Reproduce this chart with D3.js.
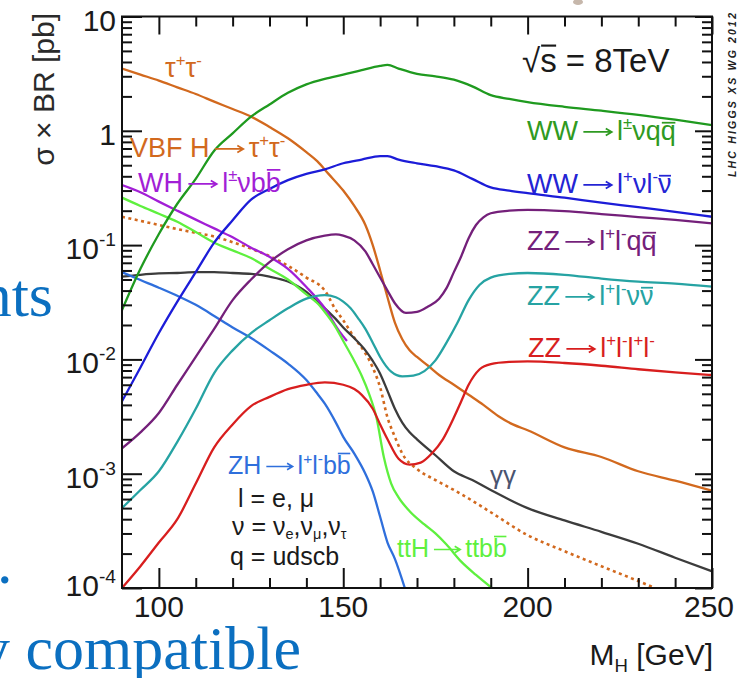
<!DOCTYPE html>
<html>
<head>
<meta charset="utf-8">
<script src="https://cdn.jsdelivr.net/npm/d3@7"></script>
<style>
  html, body { margin: 0; padding: 0; background: #fff; overflow: hidden; }
  text { font-family: "Liberation Sans", Arial, Helvetica, sans-serif; }
</style>
</head>
<body>
<svg id="chart" width="741" height="678"></svg>
<script>
// ---- cross section x branching ratio, sqrt(s) = 8 TeV (pb) ----
const massTauTau = [90,95,100,105,110,115,120,125,130,135,140,143,146,150,153,156,158,160,162,164,166,168,170,173,176,180,184,188,192,196,200,210,220,230,240,250];
const tauTau     = [3.5,3.1,2.75,2.4,2.1,1.8,1.55,1.33,1.08,0.86,0.65,0.54,0.42,0.3,0.22,0.15,0.1,0.06,0.035,0.021,0.015,0.012,0.0105,0.0088,0.0073,0.006,0.0049,0.004,0.0032,0.0027,0.0024,0.0017,0.0014,0.00105,0.00087,0.00071];

const massVbfTauTau = [90,95,100,105,110,115,120,125,130,135,140,145,148,150,153,156,158,160,162,164,166,170,175,180,185,190,200,210,220,230,234.5];
const vbfTauTau     = [0.177,0.163,0.15,0.138,0.128,0.119,0.106,0.093,0.08,0.066,0.052,0.04,0.027,0.022,0.0155,0.0113,0.0085,0.0057,0.0031,0.0021,0.0015,0.0011,0.00088,0.00072,0.00058,0.00046,0.00029,0.00021,0.000155,0.000115,0.0001];

const massWhLvbb = [90,95,100,105,110,115,120,125,130,135,140,145,149,151];
const whLvbb     = [0.335,0.29,0.24,0.2,0.167,0.14,0.117,0.095,0.079,0.062,0.043,0.028,0.0175,0.0145];

const massTthBb = [90,95,100,105,110,115,120,125,130,135,140,143,145,148,150,153,155,157,159,161,163,165,168,172,175,178,182,186,190.3];
const tthBb     = [0.26,0.22,0.188,0.16,0.13,0.105,0.09,0.077,0.062,0.05,0.037,0.031,0.026,0.019,0.0145,0.0097,0.0072,0.005,0.0031,0.0014,0.00082,0.00062,0.00047,0.00036,0.0003,0.00024,0.00017,0.00013,0.0001];

const massGammaGamma = [90,95,100,105,110,115,120,125,130,135,140,143,145,148,150,153,156,158,160,162,164,166,168,170,175,180,185,190,200,210,220,230,240,250];
const gammaGamma     = [0.053,0.055,0.0565,0.057,0.058,0.058,0.057,0.056,0.053,0.048,0.039,0.032,0.028,0.0225,0.019,0.0153,0.012,0.0097,0.0075,0.0053,0.0037,0.0028,0.0023,0.002,0.00145,0.00105,0.00088,0.00072,0.0005,0.00039,0.00031,0.000244,0.000184,0.00014];

const massZhLLbb = [90,95,100,105,110,115,120,125,130,135,140,143,145,148,150,153,156,158,160,162,164,166.7];
const zhLLbb     = [0.058,0.0495,0.0424,0.036,0.03,0.024,0.019,0.0154,0.012,0.0092,0.0066,0.005,0.0041,0.0028,0.0021,0.0015,0.001,0.0007,0.00042,0.00025,0.00018,0.0001];

const massWwLvqq = [90,95,100,105,110,115,120,125,130,135,140,145,150,155,160,162,165,170,175,180,185,190,195,200,210,220,230,240,250];
const wwLvqq     = [0.027,0.062,0.125,0.23,0.38,0.67,0.95,1.33,1.7,2.15,2.55,2.85,3.1,3.4,3.7,3.77,3.5,3.15,3.0,2.8,2.45,2.05,1.9,1.78,1.62,1.5,1.38,1.25,1.12];

const massWwLvLv = [90,95,100,105,110,115,120,125,130,135,140,145,150,155,160,162,165,170,175,180,185,190,195,200,210,220,230,240,250];
const wwLvLv     = [0.0043,0.0085,0.017,0.032,0.058,0.105,0.165,0.25,0.31,0.37,0.42,0.46,0.52,0.56,0.6,0.6,0.56,0.52,0.49,0.45,0.38,0.32,0.3,0.285,0.26,0.235,0.215,0.195,0.177];

const massZzLLqq = [90,95,100,105,110,115,120,125,130,135,140,145,148,150,153,156,158,160,162,164,167,170,173,176,178,180,182,184,186,188,190,195,200,210,220,230,240,250];
const zzLLqq     = [0.00167,0.0023,0.0034,0.006,0.0105,0.0185,0.033,0.05,0.071,0.092,0.11,0.121,0.124,0.121,0.11,0.088,0.068,0.052,0.04,0.031,0.0255,0.026,0.029,0.034,0.042,0.058,0.08,0.115,0.15,0.175,0.19,0.2,0.203,0.198,0.187,0.176,0.166,0.155];

const massZzLLvv = [90,95,100,105,110,115,120,125,130,135,140,145,148,150,152,154,156,158,160,163,166,169,172,175,178,181,184,187,190,195,200,210,220,230,240,250];
const zzLLvv     = [0.0005,0.00072,0.00105,0.0019,0.0037,0.0076,0.012,0.017,0.022,0.028,0.034,0.0365,0.035,0.032,0.028,0.023,0.0185,0.014,0.0105,0.0078,0.0071,0.0072,0.0079,0.0098,0.014,0.021,0.033,0.045,0.052,0.056,0.057,0.055,0.051,0.048,0.046,0.0433];

const massZz4l = [90,95,100,105,110,115,120,125,130,135,140,145,150,153,155,158,160,162,165,168,171,174,177,180,182,184,187,190,195,200,210,220,230,240,250];
const zz4l     = [0.0001,0.000155,0.00025,0.0004,0.00082,0.0017,0.0027,0.0039,0.0047,0.0055,0.006,0.0063,0.006,0.0055,0.0049,0.0037,0.0027,0.002,0.00135,0.0012,0.00125,0.0015,0.002,0.0031,0.0043,0.006,0.0082,0.0091,0.0095,0.0096,0.0093,0.0088,0.0082,0.0077,0.0073];

// ---- axis ticks ----
const xMajorTicks = [100, 150, 200, 250];
const xMinorTicks = [110,120,130,140,160,170,180,190,210,220,230,240];
const yMajorTicks = [1e-4, 1e-3, 1e-2, 1e-1, 1, 10];
const xTickLabels = ["100", "150", "200", "250"];

// ---- chart ----
const svg = d3.select("#chart");
const W = 741, H = 678;
const plot = { left: 122, right: 712, top: 16.5, bottom: 588 };

const x = d3.scaleLinear().domain([90, 250]).range([plot.left, plot.right]);
const y = d3.scaleLog().domain([1e-4, 10]).range([plot.bottom, plot.top]);

svg.append("rect").attr("width", W).attr("height", H).attr("fill", "#fff");

// text helpers: plain, superscript, subscript, overlined runs and a drawn arrow
const T = t => ({ t });
const SUP = t => ({ t, sup: true });
const SUB = t => ({ t, sub: true });
const BAR = (t, h) => ({ t, bar: h || 0.64 });
const ARR = { arrow: true };

function rich(g, px, py, fs, color, segs, opt = {}) {
  const supScale = opt.supScale || 0.62, supRaise = opt.supRaise || 0.4;
  const subScale = opt.subScale || 0.62, subDrop = opt.subDrop || 0.22;
  const arrowW = 1.45;
  const txt = g.append("text").attr("x", px).attr("y", py)
    .attr("font-size", fs).attr("fill", color)
    .attr("text-anchor", opt.anchor || "start");
  if (opt.family) txt.style("font-family", opt.family);
  let cur = 0, idx = 0, pendingDx = 0;
  const bars = [], arrows = [];
  segs.forEach(s => {
    if (s.arrow) { arrows.push(idx - 1); pendingDx += arrowW * fs; return; }
    const off = s.sup ? -supRaise * fs : s.sub ? subDrop * fs : 0;
    const sp = txt.append("tspan").attr("dy", off - cur).text(s.t);
    if (pendingDx) { sp.attr("dx", pendingDx); pendingDx = 0; }
    if (s.sup) sp.attr("font-size", fs * supScale);
    if (s.sub) sp.attr("font-size", fs * subScale);
    if (s.bar) bars.push({ i: idx, n: s.t.length, off, h: s.bar });
    cur = off; idx += s.t.length;
  });
  const node = txt.node();
  const sw = Math.max(1.5, fs * 0.065);
  bars.forEach(b => {
    const x0 = node.getStartPositionOfChar(b.i).x;
    const x1 = node.getEndPositionOfChar(b.i + b.n - 1).x;
    const yy = py + b.off - b.h * fs;
    g.append("line").attr("x1", x0 + 1).attr("x2", x1 - 0.5)
      .attr("y1", yy).attr("y2", yy)
      .attr("stroke", color).attr("stroke-width", sw);
  });
  arrows.forEach(i => {
    const ex = node.getEndPositionOfChar(i).x;
    const a0 = ex + 0.2 * fs, a1 = ex + (arrowW - 0.2) * fs;
    const ay = py - 0.3 * fs, hw = 0.22 * fs, hh = 0.13 * fs;
    g.append("path")
      .attr("d", `M${a0},${ay}H${a1}M${a1 - hw},${ay - hh}L${a1},${ay}L${a1 - hw},${ay + hh}`)
      .attr("fill", "none").attr("stroke", color).attr("stroke-width", sw)
      .attr("stroke-linejoin", "miter");
  });
  return txt;
}

// ---- slide text around the figure ----
const slideBlue = "#0b6fc0";
const serif = '"Liberation Serif", "Times New Roman", serif';
svg.append("text").attr("x", 53).attr("y", 316).attr("text-anchor", "end")
  .attr("font-size", 62).attr("fill", slideBlue).style("font-family", serif).text("nts");
svg.append("text").attr("x", -3).attr("y", 583)
  .attr("font-size", 62).attr("fill", slideBlue).style("font-family", serif).text(".");
svg.append("text").attr("x", 301).attr("y", 669).attr("text-anchor", "end")
  .attr("font-size", 62).attr("fill", slideBlue).style("font-family", serif).text("y compatible");

// small fragment at the top edge
svg.append("ellipse").attr("cx", 578).attr("cy", 2).attr("rx", 5).attr("ry", 3)
  .attr("fill", "#b8a596").attr("opacity", 0.8);

// ---- curves ----
const clip = svg.append("defs").append("clipPath").attr("id", "plotClip");
clip.append("rect").attr("x", plot.left).attr("y", plot.top)
  .attr("width", plot.right - plot.left).attr("height", plot.bottom - plot.top);

const line = d3.line()
  .x(d => x(d[0]))
  .y(d => y(d[1]))
  .curve(d3.curveMonotoneX);

const curves = [
  { m: massTauTau,     v: tauTau,     color: "#d2691e" },
  { m: massVbfTauTau,  v: vbfTauTau,  color: "#d2691e", dash: "3,3.5" },
  { m: massGammaGamma, v: gammaGamma, color: "#3c3c3c" },
  { m: massWhLvbb,     v: whLvbb,     color: "#a21fd6" },
  { m: massTthBb,      v: tthBb,      color: "#5ef03e" },
  { m: massZhLLbb,     v: zhLLbb,     color: "#2f6fdc" },
  { m: massWwLvqq,     v: wwLvqq,     color: "#1f9a1f" },
  { m: massWwLvLv,     v: wwLvLv,     color: "#1c1cd8" },
  { m: massZzLLqq,     v: zzLLqq,     color: "#74207a" },
  { m: massZzLLvv,     v: zzLLvv,     color: "#26a3a3" },
  { m: massZz4l,       v: zz4l,       color: "#d81e1e" }
];

const gCurves = svg.append("g").attr("clip-path", "url(#plotClip)");
curves.forEach(c => {
  gCurves.append("path")
    .datum(c.m.map((m, i) => [m, c.v[i]]))
    .attr("d", line)
    .attr("fill", "none")
    .attr("stroke", c.color)
    .attr("stroke-width", c.dash ? 2.6 : 2.3)
    .attr("stroke-dasharray", c.dash || null)
    .attr("stroke-linejoin", "round");
});

// ---- frame and ticks ----
const yMinorTicks = [];
yMajorTicks.slice(0, -1).forEach(v => { for (let k = 2; k <= 9; k++) yMinorTicks.push(v * k); });

function styleAxis(g) {
  g.select(".domain").remove();
  g.selectAll(".tick line").attr("stroke", "#111").attr("stroke-width", 2);
  g.selectAll(".tick text").remove();
}
const axes = svg.append("g");
axes.append("g").attr("transform", `translate(0,${plot.bottom})`)
  .call(d3.axisBottom(x).tickValues(xMajorTicks).tickSize(-20).tickSizeOuter(0)).call(styleAxis);
axes.append("g").attr("transform", `translate(0,${plot.bottom})`)
  .call(d3.axisBottom(x).tickValues(xMinorTicks).tickSize(-10).tickSizeOuter(0)).call(styleAxis);
axes.append("g").attr("transform", `translate(0,${plot.top})`)
  .call(d3.axisTop(x).tickValues(xMajorTicks).tickSize(-18).tickSizeOuter(0)).call(styleAxis);
axes.append("g").attr("transform", `translate(0,${plot.top})`)
  .call(d3.axisTop(x).tickValues(xMinorTicks).tickSize(-10).tickSizeOuter(0)).call(styleAxis);
axes.append("g").attr("transform", `translate(${plot.left},0)`)
  .call(d3.axisLeft(y).tickValues(yMajorTicks).tickSize(-20).tickSizeOuter(0)).call(styleAxis);
axes.append("g").attr("transform", `translate(${plot.left},0)`)
  .call(d3.axisLeft(y).tickValues(yMinorTicks).tickSize(-10).tickSizeOuter(0)).call(styleAxis);
axes.append("g").attr("transform", `translate(${plot.right},0)`)
  .call(d3.axisRight(y).tickValues(yMajorTicks).tickSize(-17).tickSizeOuter(0)).call(styleAxis);
axes.append("g").attr("transform", `translate(${plot.right},0)`)
  .call(d3.axisRight(y).tickValues(yMinorTicks).tickSize(-10).tickSizeOuter(0)).call(styleAxis);

svg.append("rect")
  .attr("x", plot.left).attr("y", plot.top)
  .attr("width", plot.right - plot.left).attr("height", plot.bottom - plot.top)
  .attr("fill", "none").attr("stroke", "#111").attr("stroke-width", 2);

// ---- tick labels ----
const labels = svg.append("g");
xMajorTicks.forEach((v, i) => {
  labels.append("text").attr("x", x(v) - (v === 250 ? 3 : 0)).attr("y", 617).attr("text-anchor", "middle")
    .attr("font-size", 30).attr("fill", "#1a1a1a").text(xTickLabels[i]);
});
yMajorTicks.forEach(v => {
  const e = Math.round(Math.log10(v));
  const py = Math.min(y(v) + 14, 596);
  const segs = e === 1 ? [T("10")] : e === 0 ? [T("1")] : [T("10"), SUP(String(e))];
  rich(labels, 116, py, 30, "#1a1a1a", segs, { anchor: "end", supScale: 0.64, supRaise: 0.44 });
});

// ---- axis titles ----
const yTitle = svg.append("g").attr("transform", "translate(54,13) rotate(-90)");
rich(yTitle, 0, 0, 30, "#2a2a2a", [T("σ × BR [pb]")], { anchor: "end" });
rich(svg, 713, 665, 30, "#1a1a1a", [T("M"), SUB("H"), T(" [GeV]")], { anchor: "end" });

// energy
rich(svg, 522, 72, 33, "#1a1a1a", [T("√"), BAR("s", 0.8), T(" = 8TeV")]);

// group watermark
svg.append("text")
  .attr("transform", "translate(736,177) rotate(-90)")
  .attr("font-size", 10.5).attr("font-weight", "bold").attr("font-style", "italic")
  .attr("fill", "#222").attr("textLength", 164).attr("lengthAdjust", "spacing")
  .text("LHC HIGGS XS WG 2012");

// ---- channel labels ----
const ann = svg.append("g");
rich(ann, 165, 77, 27, "#d2691e", [T("τ"), SUP("+"), T("τ"), SUP("-")]);
rich(ann, 130, 157, 27, "#d2691e", [T("VBF H"), ARR, T("τ"), SUP("+"), T("τ"), SUP("-")]);
rich(ann, 138, 192, 27, "#a21fd6", [T("WH"), ARR, T("l"), SUP("±"), T("νb"), BAR("b", 0.82)]);
rich(ann, 527, 140, 27, "#2f9a22", [T("WW"), ARR, T("l"), SUP("±"), T("νq"), BAR("q")]);
rich(ann, 527, 193, 27, "#2424d4", [T("WW"), ARR, T("l"), SUP("+"), T("νl"), SUP("-"), BAR("ν")]);
rich(ann, 527, 250, 27, "#74207a", [T("ZZ"), ARR, T("l"), SUP("+"), T("l"), SUP("-"), T("q"), BAR("q")]);
rich(ann, 527, 305, 27, "#26a3a3", [T("ZZ"), ARR, T("l"), SUP("+"), T("l"), SUP("-"), T("ν"), BAR("ν")]);
rich(ann, 528, 357, 27, "#d81e1e", [T("ZZ"), ARR, T("l"), SUP("+"), T("l"), SUP("-"), T("l"), SUP("+"), T("l"), SUP("-")]);
rich(ann, 490, 484, 26, "#4a5470", [T("γγ")]);
rich(ann, 397, 557, 25, "#5ef03e", [T("ttH"), ARR, T("ttb"), BAR("b", 0.82)]);
rich(ann, 228, 474, 25, "#2f6fdc", [T("ZH"), ARR, T("l"), SUP("+"), T("l"), SUP("-"), T("b"), BAR("b", 0.82)]);
rich(ann, 238, 507, 25, "#1a1a1a", [T("l = e, μ")]);
rich(ann, 232, 535, 25, "#1a1a1a", [T("ν = ν"), SUB("e"), T(",ν"), SUB("μ"), T(",ν"), SUB("τ")], { subScale: 0.58, subDrop: 0.15 });
rich(ann, 230, 565, 25, "#1a1a1a", [T("q = udscb")]);
</script>
</body>
</html>
